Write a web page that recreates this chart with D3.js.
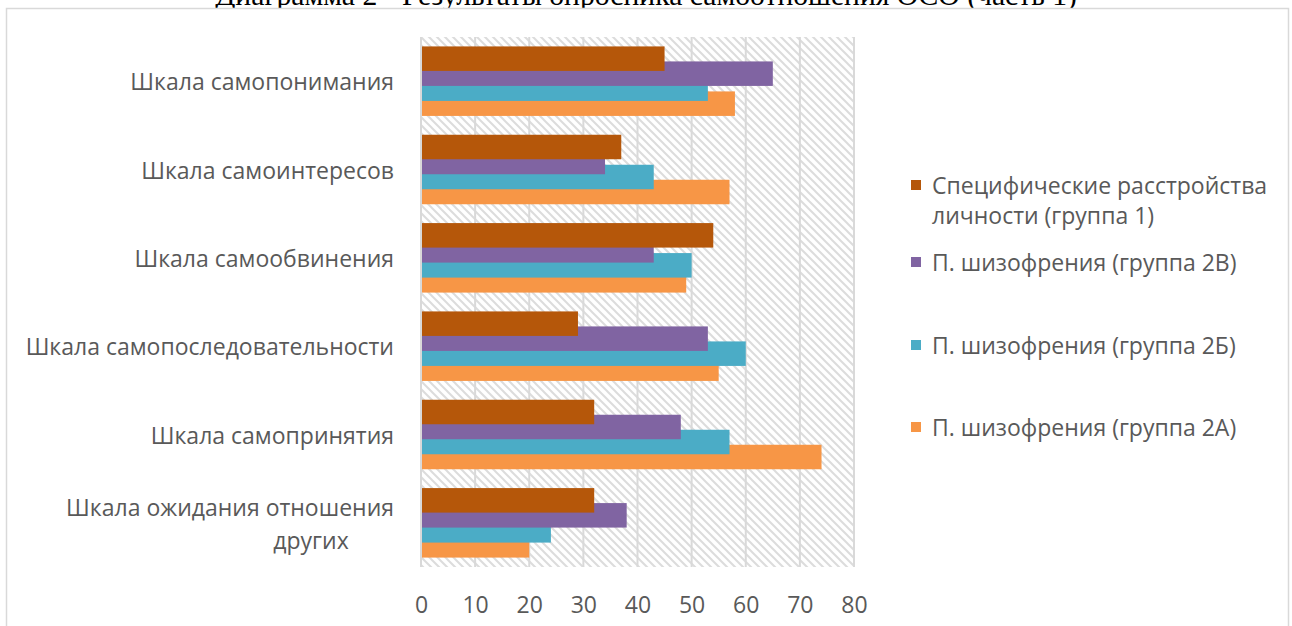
<!DOCTYPE html>
<html>
<head>
<meta charset="utf-8">
<script src="https://cdn.jsdelivr.net/npm/d3@7"></script>
<style>
  html, body { margin: 0; padding: 0; background: #fff; }
  svg { display: block; }
</style>
</head>
<body>
<svg id="chart" width="1292" height="626"></svg>
<script>
// Scales of the self-attitude questionnaire, listed top to bottom
const categories = [
  "Шкала самопонимания",
  "Шкала самоинтересов",
  "Шкала самообвинения",
  "Шкала самопоследовательности",
  "Шкала самопринятия",
  "Шкала ожидания отношения других"
];

// Series names, in the order they appear in the legend and within each group (top to bottom)
const seriesNames = [
  "Специфические расстройства личности (группа 1)",
  "П. шизофрения (группа 2В)",
  "П. шизофрения (группа 2Б)",
  "П. шизофрения (группа 2А)"
];

// Scores per scale, one array per group
const group1  = [45, 37, 54, 29, 32, 32];
const group2V = [65, 34, 43, 53, 48, 38];
const group2B = [53, 43, 50, 60, 57, 24];
const group2A = [58, 57, 49, 55, 74, 20];

const tickValues = [0, 10, 20, 30, 40, 50, 60, 70, 80];
const colors = ["#B5570A", "#8064A2", "#4BACC6", "#F79646"];

const titleText = "Диаграмма 2 - Результаты опросника самоотношения ОСО (часть 1)";

const seriesValues = [group1, group2V, group2B, group2A];

const svg = d3.select("#chart");
const font = "'Open Sans', 'Noto Sans', sans-serif";
const textColor = "#595959";
const labelSize = 23;

// Document caption sitting above the chart object (partly hidden by it)
const title = svg.append("text")
  .attr("x", 646).attr("y", 5)
  .attr("text-anchor", "middle")
  .attr("font-family", "'Liberation Serif', 'Times New Roman', serif")
  .attr("font-size", 29)
  .attr("fill", "#000")
  .text(titleText);
{
  const w = title.node().getComputedTextLength();
  title.attr("font-size", 29 * 862 / w);
}

// Chart area frame
svg.append("rect")
  .attr("x", 6.5).attr("y", 8.5)
  .attr("width", 1282).attr("height", 700)
  .attr("fill", "#fff")
  .attr("stroke", "#d9d9d9")
  .attr("stroke-width", 1.5);

// Plot area
const plot = { left: 421, right: 854, top: 37, bottom: 567 };

const x = d3.scaleLinear().domain([0, 80]).range([plot.left, plot.right]);
const y = d3.scaleBand().domain(categories).range([plot.top, plot.bottom]);

// Bars in a group overlap: each one starts 15px below the previous, height 24.5px
const barH = 24.5;
const step = 15;
const groupH = barH + step * (seriesNames.length - 1);
const inner = d3.scalePoint().domain(seriesNames).range([0, step * (seriesNames.length - 1)]);
const groupOffset = (y.bandwidth() - groupH) / 2;

// Diagonal hatch fill of the plot area
const defs = svg.append("defs");
const pat = defs.append("pattern")
  .attr("id", "hatch")
  .attr("patternUnits", "userSpaceOnUse")
  .attr("width", 8).attr("height", 8);
pat.append("rect").attr("width", 8).attr("height", 8).attr("fill", "#fff");
pat.append("path")
  .attr("d", "M-2,-2 L10,10 M-2,6 L2,10 M6,-2 L10,2")
  .attr("stroke", "#dcdcdc")
  .attr("stroke-width", 2);

svg.append("rect")
  .attr("x", plot.left).attr("y", plot.top)
  .attr("width", plot.right - plot.left).attr("height", plot.bottom - plot.top)
  .attr("fill", "url(#hatch)");

// Vertical gridlines
svg.append("g")
  .selectAll("line")
  .data(tickValues)
  .join("line")
  .attr("x1", d => x(d)).attr("x2", d => x(d))
  .attr("y1", plot.top).attr("y2", plot.bottom)
  .attr("stroke", "#d9d9d9")
  .attr("stroke-width", 2);

// Bars: the bottom series is drawn first so that upper series overlap it
const order = d3.range(seriesNames.length).reverse();
order.forEach(si => {
  svg.append("g")
    .selectAll("rect")
    .data(categories.map((c, ci) => ({ c, v: seriesValues[si][ci] })))
    .join("rect")
    .attr("x", x(0))
    .attr("y", d => y(d.c) + groupOffset + inner(seriesNames[si]))
    .attr("width", d => x(d.v) - x(0))
    .attr("height", barH)
    .attr("fill", colors[si]);
});

// Left axis line
svg.append("line")
  .attr("x1", x(0)).attr("x2", x(0))
  .attr("y1", plot.top).attr("y2", plot.bottom)
  .attr("stroke", "#d9d9d9").attr("stroke-width", 2);

// X axis tick labels
const xAxis = d3.axisBottom(x).tickValues(tickValues).tickSize(0).tickPadding(0);
const gx = svg.append("g")
  .attr("transform", `translate(0, ${plot.bottom})`)
  .call(xAxis);
gx.select(".domain").remove();
gx.selectAll("text")
  .attr("font-family", font)
  .attr("font-size", labelSize)
  .attr("fill", textColor)
  .attr("dy", null)
  .attr("y", 37)
  .attr("dominant-baseline", "central");

// Category labels (last one wraps onto two lines)
const wrapped = {
  "Шкала ожидания отношения других": ["Шкала ожидания отношения", "других"]
};
const labelG = svg.append("g");
categories.forEach(c => {
  const cy = y(c) + y.bandwidth() / 2;
  const lines = wrapped[c] || [c];
  if (lines.length === 1) {
    labelG.append("text")
      .attr("x", 394).attr("y", cy)
      .attr("text-anchor", "end")
      .attr("dominant-baseline", "central")
      .attr("font-family", font).attr("font-size", labelSize)
      .attr("fill", textColor)
      .text(lines[0]);
  } else {
    labelG.append("text")
      .attr("x", 394).attr("y", cy - 16)
      .attr("text-anchor", "end")
      .attr("dominant-baseline", "central")
      .attr("font-family", font).attr("font-size", labelSize)
      .attr("fill", textColor)
      .text(lines[0]);
    labelG.append("text")
      .attr("x", 311).attr("y", cy + 17)
      .attr("text-anchor", "middle")
      .attr("dominant-baseline", "central")
      .attr("font-family", font).attr("font-size", labelSize)
      .attr("fill", textColor)
      .text(lines[1]);
  }
});

// Legend
const legendEntries = [
  { lines: ["Специфические расстройства", "личности (группа 1)"], y: 185 },
  { lines: ["П. шизофрения (группа 2В)"], y: 262 },
  { lines: ["П. шизофрения (группа 2Б)"], y: 345 },
  { lines: ["П. шизофрения (группа 2А)"], y: 427 }
];
const lg = svg.append("g");
legendEntries.forEach((e, i) => {
  lg.append("rect")
    .attr("x", 911).attr("y", e.y - 5)
    .attr("width", 10).attr("height", 10)
    .attr("fill", colors[i]);
  e.lines.forEach((t, li) => {
    lg.append("text")
      .attr("x", 932).attr("y", e.y + li * 30)
      .attr("dominant-baseline", "central")
      .attr("font-family", font).attr("font-size", labelSize)
      .attr("fill", textColor)
      .text(t);
  });
});
</script>
</body>
</html>
